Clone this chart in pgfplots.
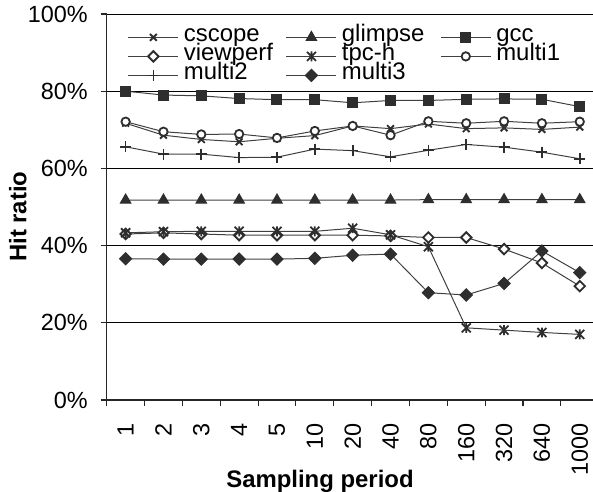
\documentclass[border=0pt]{standalone}
\usepackage{fontspec}
\setmainfont{Liberation Sans}
\usepackage{pgfplots}
\pgfplotsset{compat=1.18}

% x-shaped mark with a vertical stroke (six-armed star)
\pgfdeclareplotmark{xbar}{%
  \pgfpathmoveto{\pgfqpoint{-\pgfplotmarksize}{-\pgfplotmarksize}}%
  \pgfpathlineto{\pgfqpoint{\pgfplotmarksize}{\pgfplotmarksize}}%
  \pgfpathmoveto{\pgfqpoint{-\pgfplotmarksize}{\pgfplotmarksize}}%
  \pgfpathlineto{\pgfqpoint{\pgfplotmarksize}{-\pgfplotmarksize}}%
  \pgfpathmoveto{\pgfqpoint{0pt}{-1.1\pgfplotmarksize}}%
  \pgfpathlineto{\pgfqpoint{0pt}{1.1\pgfplotmarksize}}%
  \pgfusepathqstroke}

\definecolor{mk}{gray}{0.18}
\definecolor{ln}{gray}{0.25}

\begin{document}
\begin{tikzpicture}
\useasboundingbox (-106.7bp,-92bp) rectangle (486.3bp,400bp);
\begin{axis}[
  at={(0,0)}, anchor=south west,
  scale only axis,
  width=486.3bp, height=386bp,
  xmin=-0.5, xmax=12.35,
  ymin=0, ymax=100,
  axis x line=bottom, axis y line=left,
  axis line style={-, black!85, line width=1.1bp},
  tick align=outside,
  major tick length=6bp, minor tick length=6bp,
  xtick={0,...,12},
  xticklabels={1,2,3,4,5,10,20,40,80,160,320,640,1000},
  minor xtick={-0.5,0.5,...,11.5},
  x tick style={draw=none},
  minor x tick style={draw=black!85, line width=1.1bp},
  y tick style={draw=black!85, line width=1.1bp},
  ytick={0,20,...,100},
  yticklabel={\pgfmathprintnumber{\tick}\%},
  /pgf/number format/assume math mode=true,
  ymajorgrids,
  grid style={black, line width=0.8bp},
  tick label style={font=\fontsize{23.5}{23.5}\selectfont},
  xticklabel style={rotate=90, anchor=east, inner sep=0pt},
  xticklabel shift=17bp,
  yticklabel style={anchor=east, inner sep=0pt},
  yticklabel shift=12.7bp,
  xlabel={Sampling period},
  ylabel={Hit ratio},
  label style={font=\fontsize{24}{24}\selectfont\bfseries},
  xlabel style={at={(axis description cs:0.4386,0)}, anchor=base, yshift=-87bp},
  ylabel style={at={(axis description cs:-0.183,0.475)}, anchor=center, rotate=0},
  every axis plot/.append style={ln, line width=1bp, mark options={solid}},
  legend image code/.code={%
    \draw[mark repeat=2,mark phase=2] plot coordinates {(0bp,0bp) (25bp,0bp) (50bp,0bp)};},
  legend columns=3,
  legend cell align=left,
  legend style={
    at={(axis cs:0.06,96.4)}, anchor=north west,
    draw=none, fill=none, inner sep=0pt, outer sep=0pt,
    font=\fontsize{24}{24}\selectfont,
    nodes={inner sep=0pt, text height=14bp, text depth=5bp},
    column sep=5bp,
    /tikz/column 2/.style={column sep=13bp},
    /tikz/column 4/.style={column sep=16bp},
  },
]
% cscope
\addplot[mark=x, mark size=4.8bp, mark options={draw=mk, line width=1.9bp}]
  coordinates {(0,71.7)(1,68.6)(2,67.5)(3,66.9)(4,67.8)(5,68.5)(6,71.0)(7,70.3)(8,71.5)(9,70.3)(10,70.5)(11,70.1)(12,70.7)};
% glimpse
\addplot[mark=triangle*, mark size=6bp, mark options={draw=mk, fill=mk}]
  coordinates {(0,51.8)(1,51.8)(2,51.8)(3,51.8)(4,51.8)(5,51.8)(6,51.8)(7,51.8)(8,51.9)(9,51.9)(10,51.9)(11,51.9)(12,51.9)};
% gcc
\addplot[mark=square*, mark size=5bp, mark options={draw=mk, fill=mk}]
  coordinates {(0,80.0)(1,79.0)(2,78.8)(3,78.1)(4,77.8)(5,77.8)(6,77.0)(7,77.6)(8,77.6)(9,77.9)(10,78.0)(11,77.9)(12,76.0)};
% viewperf
\addplot[mark=square*, mark size=3.7bp, mark options={rotate=45, draw=mk, fill=white, line width=1.9bp}]
  coordinates {(0,43.0)(1,43.3)(2,43.0)(3,42.7)(4,42.7)(5,42.7)(6,42.7)(7,42.5)(8,42.1)(9,42.1)(10,39.1)(11,35.5)(12,29.5)};
% tpc-h
\addplot[mark=xbar, mark size=4.5bp, mark options={draw=mk, line width=1.8bp}]
  coordinates {(0,43.3)(1,43.6)(2,43.7)(3,43.7)(4,43.7)(5,43.7)(6,44.5)(7,42.8)(8,39.7)(9,18.7)(10,18.1)(11,17.5)(12,17.0)};
% multi1
\addplot[mark=*, mark size=4.2bp, mark options={draw=mk, fill=white, line width=1.8bp}]
  coordinates {(0,72.1)(1,69.5)(2,68.8)(3,68.9)(4,67.9)(5,69.7)(6,71.0)(7,68.6)(8,72.2)(9,71.7)(10,72.2)(11,71.7)(12,72.1)};
% multi2
\addplot[mark=+, mark size=5.5bp, mark options={draw=mk, line width=1.7bp}]
  coordinates {(0,65.6)(1,63.7)(2,63.7)(3,62.8)(4,62.9)(5,65.0)(6,64.6)(7,63.0)(8,64.7)(9,66.2)(10,65.5)(11,64.2)(12,62.5)};
% multi3
\addplot[mark=square*, mark size=4.3bp, mark options={rotate=45, draw=mk, fill=mk}]
  coordinates {(0,36.6)(1,36.5)(2,36.5)(3,36.5)(4,36.5)(5,36.7)(6,37.5)(7,37.8)(8,27.8)(9,27.2)(10,30.2)(11,38.6)(12,33.0)};
\legend{cscope,glimpse,gcc,viewperf,tpc-h,multi1,multi2,multi3}
\end{axis}
\end{tikzpicture}
\end{document}
